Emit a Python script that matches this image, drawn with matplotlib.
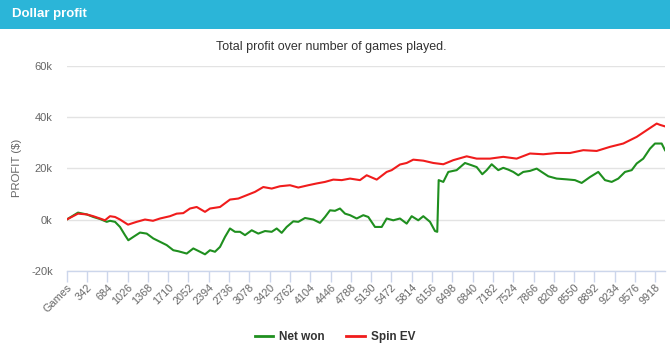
import matplotlib
matplotlib.use("Agg")
import matplotlib.pyplot as plt
from matplotlib.lines import Line2D

plt.rcParams['font.family'] = ['Liberation Sans', 'DejaVu Sans']

# ---- data (values in dollars) ----
net_games = [0, 190, 337, 448, 561, 674, 729, 814, 898, 982, 1038, 1122, 1235, 1348,
             1459, 1572, 1685, 1796, 1880, 2022, 2133, 2246, 2330, 2414, 2498, 2583,
             2667, 2751, 2835, 2920, 3004, 3117, 3228, 3341, 3454, 3538, 3622, 3706,
             3818, 3902, 4015, 4154, 4267, 4352, 4436, 4520, 4604, 4689, 4773, 4886,
             4997, 5081, 5194, 5307, 5391, 5502, 5615, 5728, 5812, 5923, 6008, 6121,
             6205, 6243, 6267, 6345, 6429, 6570, 6710, 6823, 6907, 7002, 7076, 7160,
             7271, 7355, 7440, 7524, 7608, 7692, 7805, 7918, 8002, 8114, 8255, 8424,
             8563, 8676, 8816, 8956, 9069, 9182, 9293, 9406, 9519, 9603, 9714, 9827,
             9911, 10024, 10080]
net_won = [0, 2700, 2000, 1000, 200, -900, -500, -900, -2900, -6100, -8100, -6800,
           -5100, -5500, -7400, -8700, -10000, -12000, -12400, -13300, -11300, -12600,
           -13600, -12000, -12600, -10700, -6800, -3500, -4800, -4800, -6100, -4200,
           -5500, -4500, -4800, -3500, -5200, -2900, -700, -900, 600, 0, -1300, 1000,
           3600, 3400, 4300, 2300, 1700, 400, 1700, 1000, -2900, -2900, 400, -300, 400,
           -1600, 1300, -300, 1300, -900, -4500, -4800, 15400, 14700, 18600, 19300,
           22100, 21200, 20500, 17700, 19300, 21600, 19300, 20200, 19500, 18600, 17300,
           18600, 19000, 19900, 18600, 16900, 16000, 15700, 15400, 14300, 16600, 18600,
           15400, 14700, 16000, 18600, 19300, 21900, 23800, 27700, 29700, 29700, 27100]

ev_games = [0, 190, 337, 448, 561, 645, 729, 814, 898, 1033, 1179, 1319, 1454, 1572,
            1740, 1853, 1964, 2077, 2190, 2330, 2414, 2583, 2751, 2891, 3032, 3172,
            3312, 3454, 3593, 3762, 3902, 4070, 4212, 4352, 4491, 4633, 4773, 4941,
            5054, 5223, 5391, 5475, 5615, 5728, 5839, 6008, 6176, 6345, 6513, 6739,
            6907, 7131, 7355, 7581, 7805, 8029, 8255, 8479, 8703, 8929, 9153, 9377,
            9603, 9771, 9940, 9995, 10080]
spin_ev = [0, 2300, 2000, 1300, 400, -300, 1300, 1000, 0, -2000, -900, 0, -500, 400,
           1300, 2300, 2500, 4300, 4900, 3000, 4300, 4900, 7800, 8200, 9500, 10800,
           12700, 12100, 13000, 13400, 12500, 13400, 14100, 14700, 15600, 15400, 16000,
           15400, 17300, 15600, 18600, 19300, 21500, 22100, 23400, 23000, 22100, 21600,
           23200, 24700, 23800, 23800, 24500, 23800, 25800, 25500, 26000, 26000, 27100,
           26800, 28400, 29700, 32300, 34900, 37500, 37000, 36400]

tick_games = [342 * i for i in range(30)]
tick_labels = ["Games"] + [str(g) for g in tick_games[1:]]
y_ticks = [-20000, 0, 20000, 40000, 60000]
y_labels = ["-20k", "0k", "20k", "40k", "60k"]

W, H = 670, 361
fig = plt.figure(figsize=(W / 100, H / 100), dpi=100)
fig.patch.set_facecolor("white")

# header bar
fig.patches.append(plt.Rectangle((0, 1 - 29 / H), 1, 29 / H, transform=fig.transFigure,
                                 facecolor="#2bb5d8", edgecolor="none", zorder=0))
fig.text(12 / W, 1 - 14.5 / H, "Dollar profit", color="white", fontsize=9.5,
         fontweight="bold", va="center", ha="left")

left, right = 66.7 / W, 665 / W
bottom, top = 1 - 270.7 / H, 1 - 66 / H
ax = fig.add_axes([left, bottom, right - left, top - bottom])

ax.plot(net_games, net_won, color="#1f8f1f", lw=1.5, zorder=3, solid_joinstyle="round")
ax.plot(ev_games, spin_ev, color="#f01c1c", lw=1.5, zorder=3, solid_joinstyle="round")

ax.set_xlim(0, 10080)
ax.set_ylim(-20000, 60000)
ax.set_yticks(y_ticks)
ax.set_yticklabels(y_labels)
ax.set_xticks(tick_games)
ax.set_xticklabels(tick_labels, rotation=45, ha="right", rotation_mode="anchor")

for s in ["top", "right", "left"]:
    ax.spines[s].set_visible(False)
ax.spines["bottom"].set_color("#ccd6eb")
ax.spines["bottom"].set_linewidth(1)

ax.yaxis.grid(True, color="#e3e3e3", lw=1)
ax.set_axisbelow(True)
ax.tick_params(axis="y", length=0, pad=10, labelsize=8, labelcolor="#666666")
ax.tick_params(axis="x", length=8, width=1, color="#ccd6eb", pad=0.5, labelsize=7.8,
               labelcolor="#666666")

ax.set_ylabel("PROFIT ($)", color="#666666", fontsize=8.2)
ax.yaxis.set_label_coords(-(66.7 - 22) / (665 - 66.7), 0.5)

fig.text(0.494, 1 - 47 / H, "Total profit over number of games played.",
         color="#333333", fontsize=9, ha="center", va="center")

handles = [Line2D([], [], color="#1f8f1f", lw=2), Line2D([], [], color="#f01c1c", lw=2)]
leg = fig.legend(handles, ["Net won", "Spin EV"], loc="center",
                 bbox_to_anchor=(0.5, 1 - 337 / H), ncol=2, frameon=False,
                 handlelength=1.6, handletextpad=0.5, columnspacing=1.8,
                 prop={"weight": "bold", "size": 8.5})
for t in leg.get_texts():
    t.set_color("#333333")

fig.savefig("out.png", dpi=100, facecolor="white")
